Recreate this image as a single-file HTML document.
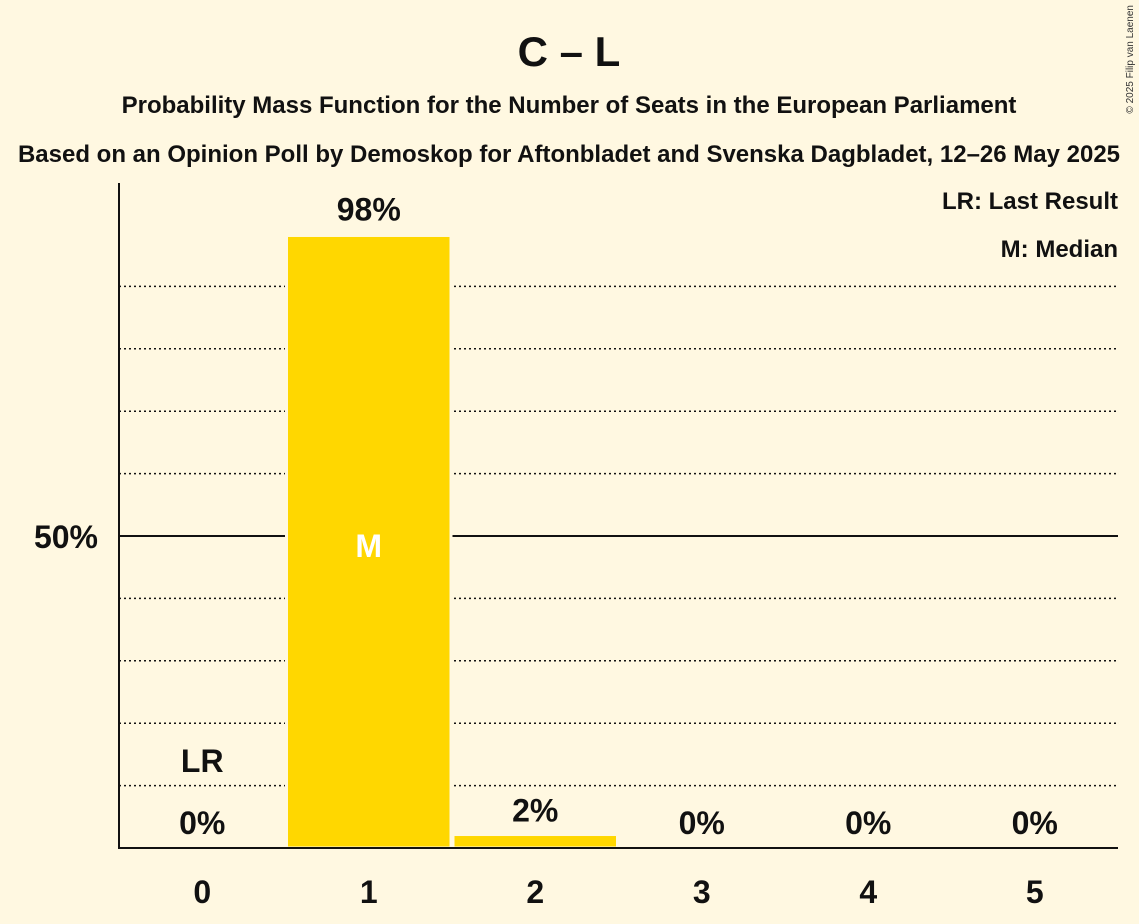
<!DOCTYPE html>
<html><head><meta charset="utf-8"><style>
body{margin:0;background:#fff8e1;}
svg{display:block;font-family:"Liberation Sans",sans-serif;}
</style></head><body>
<svg id="chart" width="1139" height="924" viewBox="0 0 1139 924">
<rect width="1139" height="924" fill="#fff8e1"/>
<text x="569" y="66" text-anchor="middle" font-size="42" font-weight="bold" fill="#111">C – L</text>
<text x="569" y="113" text-anchor="middle" font-size="24" font-weight="bold" fill="#111">Probability Mass Function for the Number of Seats in the European Parliament</text>
<text x="569" y="162" text-anchor="middle" font-size="24" font-weight="bold" fill="#111">Based on an Opinion Poll by Demoskop for Aftonbladet and Svenska Dagbladet, 12–26 May 2025</text>
<text x="1133" y="5" transform="rotate(-90 1133 5)" text-anchor="end" font-size="10" fill="#333">© 2025 Filip van Laenen</text>
<text x="1118" y="209" text-anchor="end" font-size="24" font-weight="bold" fill="#111">LR: Last Result</text>
<text x="1118" y="257" text-anchor="end" font-size="24" font-weight="bold" fill="#111">M: Median</text>
<g id="grid"></g>
<g id="bars"></g>
<line x1="119" y1="183" x2="119" y2="849" stroke="#111" stroke-width="2"/>
<line x1="118" y1="848" x2="1118" y2="848" stroke="#111" stroke-width="2"/>
<text x="98" y="548" text-anchor="end" font-size="32" font-weight="bold" fill="#111">50%</text>
</svg>
<script>
const categories=[0,1,2,3,4,5];
const values=[0,98,2,0,0,0];
const valueLabels=["0%","98%","2%","0%","0%","0%"];
const lastResult=0;
const median=1;
const gridTicks=[10,20,30,40,50,60,70,80,90];
const NS="http://www.w3.org/2000/svg";
const x0=119,x1=1118,base=848,pxPer=6.24;
const bw=(x1-x0)/categories.length;
const y=v=>base-v*pxPer;
const cx=i=>x0+bw*(i+0.5);
function mk(tag,attrs,parent){const e=document.createElementNS(NS,tag);for(const k in attrs)e.setAttribute(k,attrs[k]);parent.appendChild(e);return e;}
const grid=document.getElementById('grid'),bars=document.getElementById('bars');
gridTicks.forEach(t=>{
 const l=mk('line',{x1:x0,x2:x1,y1:y(t),y2:y(t),stroke:'#111','stroke-width':t===50?2:1.5,'stroke-dasharray':t===50?'none':'2,3'},grid);
 
 
});
categories.forEach((c,i)=>{
 const v=values[i];
 if(v>0){
  const r=mk('rect',{x:cx(i)-bw/2+1,y:y(v)-1,width:bw-2,height:base-y(v)+1,fill:'#ffd700',stroke:'#fff8e1','stroke-width':3},bars);
  
  
 }
 const t=mk('text',{x:cx(i),y:(v>0?y(v):base)-(v>5?16:14),'text-anchor':'middle','font-size':32,'font-weight':'bold',fill:'#111'},bars);
 t.textContent=valueLabels[i];
 
 
 const xl=mk('text',{x:cx(i),y:903,'text-anchor':'middle','font-size':32,'font-weight':'bold',fill:'#111'},bars);
 xl.textContent=c;
 
 
 if(c===lastResult){
  const lr=mk('text',{x:cx(i),y:772,'text-anchor':'middle','font-size':32,'font-weight':'bold',fill:'#111'},bars);
  lr.textContent='LR';
  
  
 }
 if(c===median){
  const m=mk('text',{x:cx(i),y:y(50)+21,'text-anchor':'middle','font-size':32,'font-weight':'bold',fill:'#fff'},bars);
  m.textContent='M';
  
  
 }
});
</script>
</body></html>
